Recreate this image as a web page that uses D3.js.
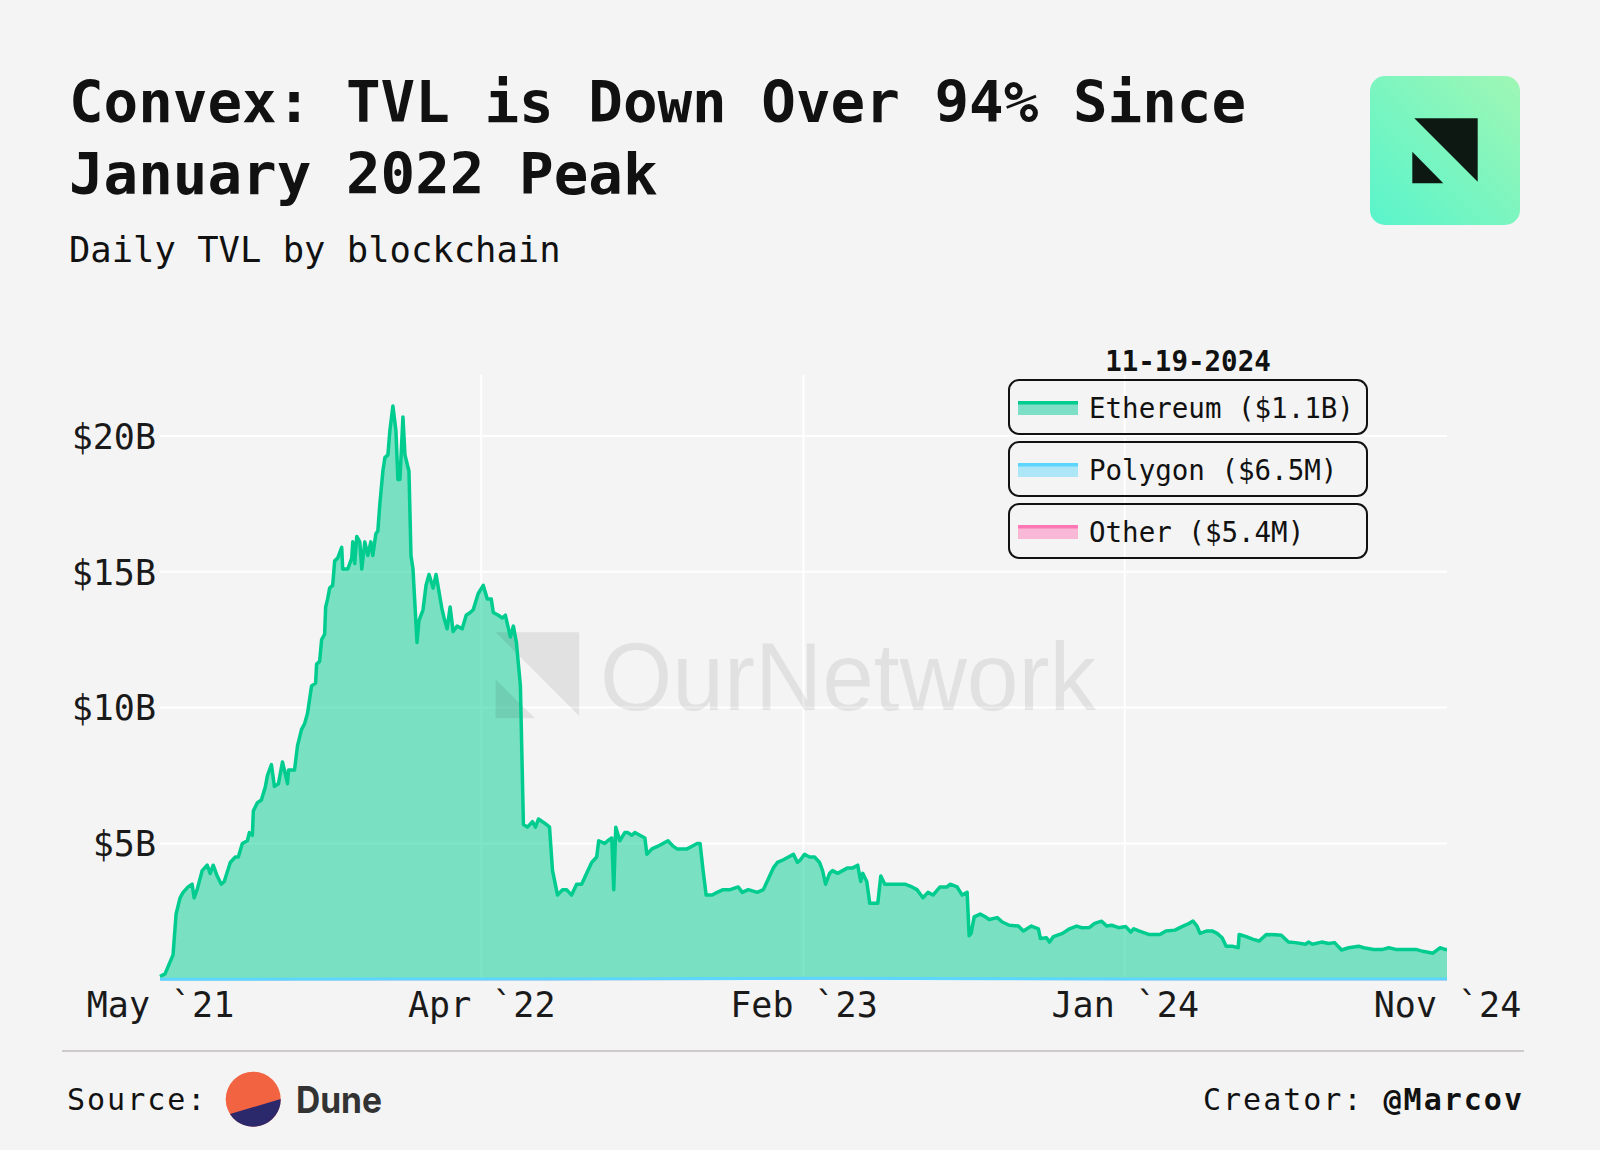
<!DOCTYPE html>
<html><head><meta charset="utf-8">
<script src="https://cdn.jsdelivr.net/npm/d3@7"></script>
<style>
html,body{margin:0;padding:0;background:#f4f4f4;}
svg{display:block;}
</style></head><body>
<svg id="chart" width="1600" height="1150"></svg>
<script>
// ---------- DATA (TVL in billions USD) ----------
const ethereumDates = [
"2021-05-17","2021-05-22","2021-05-30","2021-06-02","2021-06-06","2021-06-09","2021-06-14","2021-06-18","2021-06-20","2021-06-23",
"2021-06-28","2021-07-03","2021-07-06","2021-07-09","2021-07-13","2021-07-17","2021-07-20","2021-07-26","2021-07-31","2021-08-03",
"2021-08-07","2021-08-12","2021-08-14","2021-08-17","2021-08-18","2021-08-22","2021-08-26","2021-08-30","2021-09-01","2021-09-05",
"2021-09-08","2021-09-12","2021-09-16","2021-09-21","2021-09-22","2021-09-28","2021-10-01","2021-10-05","2021-10-08","2021-10-11",
"2021-10-15","2021-10-19","2021-10-20","2021-10-23","2021-10-25","2021-10-28","2021-10-29","2021-10-31","2021-11-02","2021-11-05",
"2021-11-07","2021-11-10","2021-11-14","2021-11-15","2021-11-20","2021-11-24","2021-11-25","2021-11-27","2021-11-29","2021-12-02",
"2021-12-04","2021-12-07","2021-12-10","2021-12-13","2021-12-15","2021-12-18","2021-12-20","2021-12-22","2021-12-25","2021-12-27",
"2021-12-30","2022-01-01","2022-01-04","2022-01-07","2022-01-09","2022-01-11","2022-01-14","2022-01-16","2022-01-20","2022-01-22",
"2022-01-24","2022-01-28","2022-01-30","2022-02-03","2022-02-06","2022-02-09","2022-02-13","2022-02-16","2022-02-22","2022-02-24",
"2022-02-27","2022-03-02","2022-03-05","2022-03-09","2022-03-14","2022-03-18","2022-03-22","2022-03-25","2022-03-30","2022-04-04",
"2022-04-08","2022-04-12","2022-04-14","2022-04-19","2022-04-23","2022-04-26","2022-05-01","2022-05-04","2022-05-07","2022-05-11",
"2022-05-14","2022-05-18","2022-05-23","2022-05-26","2022-05-29","2022-06-02","2022-06-06","2022-06-09","2022-06-12","2022-06-17",
"2022-06-22","2022-06-26","2022-07-01","2022-07-06","2022-07-11","2022-07-16","2022-07-21","2022-07-26","2022-07-28","2022-08-03",
"2022-08-06","2022-08-10","2022-08-12","2022-08-14","2022-08-18","2022-08-23","2022-08-26","2022-08-30","2022-09-02","2022-09-07",
"2022-09-12","2022-09-14","2022-09-19","2022-09-25","2022-09-30","2022-10-05","2022-10-10","2022-10-14","2022-10-19","2022-10-24",
"2022-10-29","2022-11-03","2022-11-06","2022-11-09","2022-11-12","2022-11-18","2022-11-23","2022-11-29","2022-12-06","2022-12-14",
"2022-12-18","2022-12-24","2023-01-02","2023-01-08","2023-01-13","2023-01-18","2023-01-22","2023-01-28","2023-02-02","2023-02-07",
"2023-02-11","2023-02-14","2023-02-18","2023-02-23","2023-02-28","2023-03-05","2023-03-08","2023-03-11","2023-03-15","2023-03-18",
"2023-03-23","2023-03-28","2023-04-02","2023-04-07","2023-04-12","2023-04-15","2023-04-17","2023-04-21","2023-04-24","2023-04-27",
"2023-05-02","2023-05-05","2023-05-09","2023-05-14","2023-05-19","2023-05-24","2023-05-29","2023-06-05","2023-06-10","2023-06-16",
"2023-06-21","2023-06-26","2023-07-03","2023-07-10","2023-07-13","2023-07-20","2023-07-25","2023-07-30","2023-08-01","2023-08-03",
"2023-08-06","2023-08-12","2023-08-17","2023-08-21","2023-08-29","2023-09-03","2023-09-10","2023-09-19","2023-09-24","2023-10-02",
"2023-10-09","2023-10-11","2023-10-17","2023-10-20","2023-10-24","2023-11-02","2023-11-09","2023-11-16","2023-11-21","2023-11-29",
"2023-12-04","2023-12-11","2023-12-16","2023-12-21","2023-12-28","2024-01-04","2024-01-09","2024-01-12","2024-01-17","2024-01-24",
"2024-01-27","2024-02-07","2024-02-13","2024-02-22","2024-02-29","2024-03-05","2024-03-11","2024-03-15","2024-03-18","2024-03-25",
"2024-03-30","2024-04-04","2024-04-09","2024-04-13","2024-04-19","2024-04-25","2024-04-26","2024-05-03","2024-05-10","2024-05-16",
"2024-05-23","2024-06-01","2024-06-07","2024-06-14","2024-06-21","2024-07-01","2024-07-04","2024-07-08","2024-07-17","2024-07-24",
"2024-07-30","2024-08-06","2024-08-13","2024-08-23","2024-08-28","2024-09-07","2024-09-16","2024-09-22","2024-09-29","2024-10-06",
"2024-10-13","2024-10-19","2024-10-26","2024-11-05","2024-11-12","2024-11-17","2024-11-19"
];
const ethereumValues = [
0.1,0.2,0.9,2.4,3.0,3.2,3.4,3.5,3.0,3.3,
4.0,4.2,3.9,4.2,3.8,3.5,3.6,4.3,4.5,4.5,
5.0,5.1,5.4,5.3,6.2,6.5,6.6,7.1,7.5,7.9,
7.1,7.2,8.0,7.2,7.7,7.7,8.6,9.2,9.4,9.8,
10.8,10.9,11.6,11.7,12.5,12.7,13.7,14.0,14.4,14.5,
15.4,15.5,15.9,15.1,15.1,15.5,16.1,15.3,16.3,16.1,
15.1,16.1,15.6,16.1,15.6,16.4,16.5,17.5,18.7,19.2,
19.3,20.2,21.1,20.2,18.4,18.4,20.7,19.3,18.7,15.6,
15.1,12.4,13.2,13.6,14.5,14.9,14.4,14.9,13.6,13.3,
12.9,13.7,12.8,13.0,12.9,13.4,13.5,13.6,14.2,14.5,
14.0,14.0,13.5,13.4,13.3,13.4,12.6,13.0,12.4,10.8,
5.7,5.6,5.8,5.6,5.9,5.8,5.7,5.6,4.0,3.1,
3.3,3.3,3.1,3.5,3.5,3.9,4.3,4.5,5.1,5.0,
5.1,5.2,3.3,5.6,5.1,5.4,5.4,5.3,5.4,5.3,
5.2,4.6,4.8,4.9,5.0,5.1,4.9,4.8,4.8,4.8,
4.9,5.0,5.0,4.0,3.1,3.1,3.2,3.3,3.3,3.4,
3.2,3.3,3.2,3.3,3.7,4.1,4.3,4.4,4.5,4.6,
4.3,4.4,4.6,4.5,4.5,4.3,4.0,3.5,3.9,4.0,
3.9,4.0,4.1,4.1,4.2,3.6,3.9,3.6,2.8,2.8,
2.8,3.8,3.5,3.5,3.5,3.5,3.5,3.4,3.3,3.0,
3.2,3.1,3.4,3.4,3.5,3.4,3.1,3.2,1.6,1.7,
2.3,2.4,2.3,2.2,2.27,2.11,1.99,1.96,1.78,1.96,
1.86,1.50,1.53,1.37,1.57,1.69,1.86,1.96,1.90,1.91,
2.06,2.14,1.96,1.99,1.90,1.94,1.74,1.86,1.78,1.69,
1.65,1.65,1.78,1.81,1.94,2.02,2.14,1.96,1.69,1.78,
1.78,1.69,1.53,1.22,1.22,1.16,1.65,1.57,1.47,1.41,
1.65,1.64,1.62,1.37,1.35,1.29,1.37,1.29,1.37,1.32,
1.35,1.08,1.16,1.22,1.16,1.10,1.10,1.16,1.10,1.10,
1.10,1.10,1.03,0.96,1.16,1.10,1.10
];
const polygonDates  = ["2021-05-17","2022-01-01","2022-06-01","2023-01-01","2023-03-15","2023-06-01","2023-09-01","2024-01-01","2024-06-01","2024-11-19"];
const polygonValues = [0.0,0.01,0.015,0.025,0.035,0.03,0.02,0.012,0.008,0.0065];
const otherDates  = ["2021-05-17","2022-06-01","2023-01-01","2023-02-20","2023-04-15","2023-06-15","2023-09-01","2024-03-01","2024-11-19"];
const otherValues = [0.0,0.0,0.008,0.025,0.03,0.018,0.008,0.006,0.0054];

const xTickDates  = ["2021-05-17","2022-04-02","2023-02-17","2024-01-03","2024-11-19"];
const xTickLabels = ["May `21","Apr `22","Feb `23","Jan `24","Nov `24"];
const yTickValues = [5,10,15,20];
const yTickLabels = ["$5B","$10B","$15B","$20B"];

const legendNames  = ["Ethereum","Polygon","Other"];
const legendLatest = ["$1.1B","$6.5M","$5.4M"];
const legendDate   = "11-19-2024";
const seriesColors = ["#00cc8f","#5cd5ff","#ff77b4"];
const swatchFills  = ["#7ddfc6","#ade6f7","#f8b8d6"];

const titleLines = ["Convex: TVL is Down Over 94% Since","January 2022 Peak"];
const subtitle = "Daily TVL by blockchain";

// ---------- DRAW ----------
const parse = d3.utcParse("%Y-%m-%d");
const MONO = "'DejaVu Sans Mono','Liberation Mono',monospace";
const svg = d3.select("#chart");
svg.append("rect").attr("width",1600).attr("height",1150).attr("fill","#f4f4f4");

const x = d3.scaleUtc().domain([parse(xTickDates[0]), parse(xTickDates[xTickDates.length-1])]).range([160,1447]);
const y = d3.scaleLinear().domain([0,22.26]).range([979.3,374.5]);

// titles
svg.selectAll("text.title").data(titleLines).join("text").attr("class","title")
  .attr("x",69).attr("y",(d,i)=>122+i*72)
  .attr("font-family",MONO).attr("font-weight","bold").attr("font-size",57.5).attr("fill","#111")
  .text(d=>d);
svg.append("text").attr("x",69).attr("y",262).attr("font-family",MONO).attr("font-size",35.5)
  .attr("fill","#111").text(subtitle);

// logo
const defs = svg.append("defs");
const lg = defs.append("linearGradient").attr("id","logoGrad").attr("x1","1").attr("y1","0").attr("x2","0").attr("y2","1");
lg.append("stop").attr("offset","0").attr("stop-color","#9ff7b4");
lg.append("stop").attr("offset","1").attr("stop-color","#59f4cb");
svg.append("rect").attr("x",1370).attr("y",76).attr("width",150).attr("height",149).attr("rx",15).attr("fill","url(#logoGrad)");
svg.append("path").attr("d","M1414.3,118.3 L1477.7,118.3 L1477.7,181.7 Z").attr("fill","#0d1812");
svg.append("path").attr("d","M1412.3,151.7 L1412.3,183.3 L1443.3,183.3 Z").attr("fill","#0d1812");

// grid
const grid = svg.append("g");
grid.selectAll("line.h").data(yTickValues).join("line").attr("class","h")
  .attr("x1",160).attr("x2",1447).attr("y1",d=>y(d)).attr("y2",d=>y(d))
  .attr("stroke","#ffffff").attr("stroke-width",2);
const innerTicks = xTickDates.slice(1,-1);
grid.selectAll("line.v").data(innerTicks).join("line").attr("class","v")
  .attr("x1",d=>x(parse(d))).attr("x2",d=>x(parse(d))).attr("y1",374.5).attr("y2",979.3)
  .attr("stroke","#ffffff").attr("stroke-width",2);

// series
const eth = ethereumDates.map((d,i)=>({date:parse(d), v:ethereumValues[i]}));
const poly = polygonDates.map((d,i)=>({date:parse(d), v:polygonValues[i]}));
const oth = otherDates.map((d,i)=>({date:parse(d), v:otherValues[i]}));

const area = d3.area().x(d=>x(d.date)).y0(y(0)).y1(d=>y(d.v));
const line = d3.line().x(d=>x(d.date)).y(d=>y(d.v));

svg.append("path").datum(eth).attr("d",area).attr("fill",seriesColors[0]).attr("fill-opacity",0.5);

// watermark
const wm = svg.append("g").attr("fill","rgba(0,0,0,0.075)");
wm.append("path").attr("d","M495.5,632.3 L579.2,632.3 L579.2,716 Z");
wm.append("path").attr("d","M495.5,679.3 L495.5,718.3 L535,718.3 Z");
wm.append("text").attr("x",600).attr("y",710).attr("font-family","'Liberation Sans',Arial,sans-serif")
  .attr("font-size",96).attr("textLength",496).attr("lengthAdjust","spacingAndGlyphs").text("OurNetwork");

svg.append("path").datum(eth).attr("d",line).attr("fill","none").attr("stroke",seriesColors[0])
  .attr("stroke-width",3.5).attr("stroke-linejoin","round");
svg.append("path").datum(oth).attr("d",area).attr("fill",seriesColors[2]).attr("fill-opacity",0.5);
svg.append("path").datum(oth).attr("d",line).attr("fill","none").attr("stroke",seriesColors[2]).attr("stroke-width",2);
svg.append("path").datum(poly).attr("d",area).attr("fill",seriesColors[1]).attr("fill-opacity",0.5);
svg.append("path").datum(poly).attr("d",line).attr("fill","none").attr("stroke",seriesColors[1]).attr("stroke-width",3);

// axes
const yAxis = svg.append("g").attr("transform","translate(160,0)")
  .call(d3.axisLeft(y).tickValues(yTickValues).tickFormat((d,i)=>yTickLabels[i]).tickSize(0).tickPadding(4));
yAxis.select(".domain").remove();
yAxis.selectAll("text").attr("font-family",MONO).attr("font-size",35).attr("fill","#1a1a1a").attr("dy","0.35em");

const xAxis = svg.append("g").attr("transform","translate(0,979.3)")
  .call(d3.axisBottom(x).tickValues(xTickDates.map(parse)).tickFormat((d,i)=>xTickLabels[i]).tickSize(0));
xAxis.select(".domain").remove();
xAxis.selectAll("text").attr("font-family",MONO).attr("font-size",35).attr("fill","#1a1a1a")
  .attr("y",38).attr("dy","0");

// legend
svg.append("text").attr("x",1188).attr("y",370.7).attr("text-anchor","middle").attr("font-family",MONO)
  .attr("font-weight","bold").attr("font-size",27.5).attr("fill","#111").text(legendDate);
const lgItems = svg.selectAll("g.lg").data(legendNames).join("g").attr("class","lg")
  .attr("transform",(d,i)=>`translate(1009,${380+i*62})`);
lgItems.append("rect").attr("width",358).attr("height",54).attr("rx",10)
  .attr("fill","none").attr("stroke","#111").attr("stroke-width",2);
lgItems.append("rect").attr("x",9).attr("y",22).attr("width",60).attr("height",13).attr("fill",(d,i)=>swatchFills[i]);
lgItems.append("rect").attr("x",9).attr("y",21).attr("width",60).attr("height",3.5).attr("fill",(d,i)=>seriesColors[i]);
lgItems.append("text").attr("x",80).attr("y",38).attr("font-family",MONO).attr("font-size",27.5).attr("fill","#111")
  .text((d,i)=>`${d} (${legendLatest[i]})`);

// footer
svg.append("line").attr("x1",62).attr("x2",1524).attr("y1",1051).attr("y2",1051).attr("stroke","#cfcbcb").attr("stroke-width",2);
svg.append("text").attr("x",67).attr("y",1110).attr("font-family",MONO).attr("font-size",30)
  .attr("letter-spacing",2).attr("fill","#111").text("Source:");
svg.append("circle").attr("cx",253.2).attr("cy",1099.2).attr("r",27.5).attr("fill","#f26342");
svg.append("path").attr("d","M280.7,1099 A27.5,27.5 0 0 1 230,1114 Z").attr("fill","#2b286c");
svg.append("text").attr("x",296).attr("y",1113).attr("font-family","Inter,'Liberation Sans',sans-serif")
  .attr("font-weight","bold").attr("font-size",37).attr("textLength",86).attr("lengthAdjust","spacingAndGlyphs")
  .attr("fill","#333").text("Dune");
const cr = svg.append("text").attr("x",1203).attr("y",1110).attr("font-family",MONO).attr("font-size",30)
  .attr("letter-spacing",2).attr("fill","#111");
cr.append("tspan").text("Creator: ");
cr.append("tspan").attr("font-weight","bold").text("@Marcov");
</script>
</body></html>
